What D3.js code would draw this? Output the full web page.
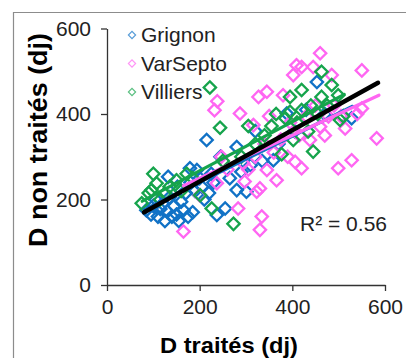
<!DOCTYPE html>
<html>
<head>
<meta charset="utf-8">
<script src="https://cdn.jsdelivr.net/npm/d3@7"></script>
<style>
  body { margin: 0; background: #fff; }
  svg { display: block; font-family: "Liberation Sans", Arial, sans-serif; }
</style>
</head>
<body>
<svg id="chart" width="406" height="358"></svg>
<script>
// values: [D traités, D non traités]
let grignon = [[85,175],[95,165],[100,185],[105,200],[110,160],[115,178],[120,190],[125,150],[130,172],[132,253],
    [135,205],[140,160],[145,185],[150,165],[152,230],[155,150],[160,195],[165,175],[170,215],[175,160],
    [179,273],[180,240],[185,170],[190,220],[194,269],[200,250],[205,230],[210,200],[215,339],[220,215],
    [225,260],[230,240],[237,164],[245,300],[255,179],[265,250],[280,222],[280,323],[290,265],[301,218],
    [310,280],[320,360],[335,290],[359,292],[370,330],[388,401],[405,360],[430,410],[453,475],[470,400],[528,390]];
let varsepto = [[165,125],[200,210],[232,409],[237,238],[238,430],[247,300],[260,270],[283,179],[287,401],[294,285],
    [297,242],[305,270],[316,374],[320,300],[323,218],[327,440],[330,226],[330,129],[334,160],[340,330],
    [345,452],[345,269],[350,395],[360,310],[366,245],[375,340],[380,444],[390,300],[395,380],[402,491],
    [406,288],[409,514],[415,350],[420,510],[420,273],[430,395],[438,339],[445,510],[450,420],[460,542],
    [460,370],[470,350],[478,394],[485,491],[490,420],[499,273],[505,395],[514,366],[528,292],[540,400],
    [550,502],[550,413],[582,343]];
let villiers = [[75,191],[90,215],[96,222],[100,260],[107,238],[115,200],[125,214],[135,230],[150,245],[160,220],
    [172,260],[185,250],[201,210],[222,462],[226,179],[244,368],[250,290],[273,143],[290,300],[305,372],
    [320,330],[340,350],[355,372],[365,400],[377,306],[385,390],[395,440],[395,405],[402,339],[410,380],
    [420,456],[420,409],[434,359],[440,420],[445,312],[455,400],[463,499],[463,440],[475,420],[485,468],
    [499,444],[503,386],[510,395]];

// trend line end points
let trend_grignon = [[80,176],[530,418]];
let trend_varsepto = [[165,232],[587,444]];
let trend_villiers = [[76,196],[512,446]];
let trend_all = [[80,170],[585,473]];

let series_names = ["Grignon", "VarSepto", "Villiers"];
let series_colors = ["#1172c6", "#ff66f2", "#16a44c"];
let x_ticks = [0, 200, 400, 600];
let y_ticks = [0, 200, 400, 600];
let r2_label = "R² = 0.56";

let svg = d3.select("#chart");

// outer frame
svg.append("path")
    .attr("d", "M13.5,358 V12.5 H406")
    .attr("fill", "none")
    .attr("stroke", "#8c8c8c")
    .attr("stroke-width", 1.2);

let x = d3.scaleLinear().domain([0, 600]).range([107, 385]);
let y = d3.scaleLinear().domain([0, 600]).range([285, 28.5]);

let xAxis = svg.append("g")
    .attr("transform", "translate(0,285)")
    .call(d3.axisBottom(x).tickValues(x_ticks).tickSize(6).tickPadding(8).tickSizeOuter(0));
let yAxis = svg.append("g")
    .attr("transform", "translate(107,0)")
    .call(d3.axisLeft(y).tickValues(y_ticks).tickSize(6).tickPadding(10).tickSizeOuter(0));

[xAxis, yAxis].forEach(function (ax) {
    ax.selectAll("path, line").attr("stroke", "#333").attr("stroke-width", 1.3);
    ax.selectAll("text")
        .attr("fill", "#222")
        .style("font-size", "21px")
        .style("font-family", "Liberation Sans, Arial, sans-serif");
});

let diamond = d3.symbol().type(d3.symbolSquare).size(76);

let all_series = [grignon, varsepto, villiers];
all_series.forEach(function (data, i) {
    svg.append("g")
        .selectAll("path")
        .data(data)
        .enter()
        .append("path")
        .attr("d", diamond)
        .attr("transform", (d) => "translate(" + x(d[0]) + "," + y(d[1]) + ") rotate(45)")
        .attr("fill", "none")
        .attr("stroke", series_colors[i])
        .attr("stroke-width", 2.3);
});

let line = d3.line().x((d) => x(d[0])).y((d) => y(d[1]));
[trend_grignon, trend_varsepto, trend_villiers].forEach(function (t, i) {
    svg.append("path")
        .attr("d", line(t))
        .attr("stroke", series_colors[i])
        .attr("stroke-width", 3.2)
        .attr("stroke-linecap", "round");
});
svg.append("path")
    .attr("d", line(trend_all))
    .attr("stroke", "#000")
    .attr("stroke-width", 4.5)
    .attr("stroke-linecap", "round");

// legend
let small_diamond = d3.symbol().type(d3.symbolSquare).size(26);
let legend = svg.append("g");
series_names.forEach(function (name, i) {
    let ly = 35 + i * 28.5;
    legend.append("path")
        .attr("d", small_diamond)
        .attr("transform", "translate(132," + ly + ") rotate(45)")
        .attr("fill", "none")
        .attr("stroke", series_colors[i])
        .attr("stroke-opacity", 0.7)
        .attr("stroke-width", 1.2);
    legend.append("text")
        .attr("x", 141)
        .attr("y", ly + 7)
        .attr("fill", "#222")
        .style("font-size", "21px")
        .text(name);
});

svg.append("text")
    .attr("x", 387)
    .attr("y", 231)
    .attr("text-anchor", "end")
    .attr("fill", "#222")
    .style("font-size", "21px")
    .text(r2_label);

// axis titles
svg.append("text")
    .attr("x", 229)
    .attr("y", 353)
    .attr("text-anchor", "middle")
    .attr("textLength", 138)
    .attr("lengthAdjust", "spacingAndGlyphs")
    .style("font-size", "22px")
    .style("font-weight", "bold")
    .text("D traités (dj)");

svg.append("text")
    .attr("transform", "translate(47,140) rotate(-90)")
    .attr("text-anchor", "middle")
    .attr("textLength", 214)
    .attr("lengthAdjust", "spacingAndGlyphs")
    .style("font-size", "25px")
    .style("font-weight", "bold")
    .text("D non traités (dj)");
</script>
</body>
</html>
